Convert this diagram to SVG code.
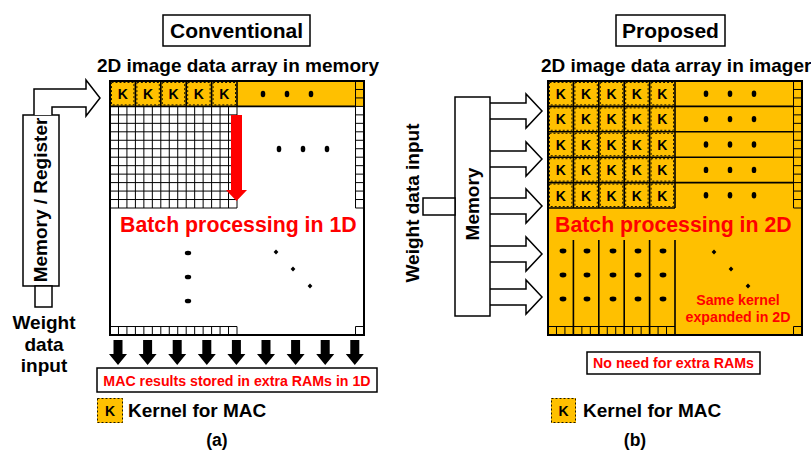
<svg xmlns="http://www.w3.org/2000/svg" width="811" height="450" viewBox="0 0 811 450">
  <style>
    text { font-family: "Liberation Sans", Arial, sans-serif; font-weight: bold; }
    .ttl { font-size: 21px; fill: #000; text-anchor: middle; }
    .hdr { font-size: 19px; fill: #000; }
    .big { font-size: 21.3px; fill: #FF0000; }
    .note { font-size: 14.2px; fill: #FF0000; text-anchor: middle; }
    .k { font-size: 14px; fill: #000; text-anchor: middle; }
    .lbl { font-size: 19px; fill: #000; }
    .cap { font-size: 17.5px; fill: #000; text-anchor: middle; }
    .box { fill: #fff; stroke: #000; stroke-width: 1.5; }
    .yel { fill: #FFC000; }
    .frame { fill: none; stroke: #000; stroke-width: 2; }
    .blk { fill: none; stroke: #000; stroke-width: 1.6; }
    .grid { fill: none; stroke: #000; stroke-width: 1; }
    .kdash { fill: none; stroke: #000; stroke-width: 0.9; stroke-dasharray: 2 2; }
    .harrow { fill: #fff; stroke: #000; stroke-width: 1.5; stroke-linejoin: miter; }
    .dot { fill: #000; }
  </style>
  <defs>
    <!-- kernel cell: dashed inner border and K label -->
    <g id="kc">
      <rect x="1.5" y="1.5" width="22.4" height="22.4" class="kdash"/>
      <text x="12.7" y="18" class="k">K</text>
    </g>
    <path id="dn" d="M-4.5,340 h9 v14 h4.5 l-9,11 l-9,-11 h4.5 z" fill="#000"/>
    <path id="ra" d="M490,-8 H526 V-17 L542,0 L526,17 V8 H490" class="harrow"/>
    <path id="diag" d="M0,-2.4 L2.4,0 L0,2.4 L-2.4,0 Z" fill="#000"/>
  </defs>

  <!-- ===== (a) Conventional ===== -->
  <g id="title-a">
    <rect x="163" y="15" width="147" height="31" class="box"/>
    <text x="236.5" y="38" class="ttl">Conventional</text>
  </g>
  <text x="97" y="72" class="hdr">2D image data array in memory</text>

  <g id="array-a">
    <rect x="110" y="81" width="254" height="254" fill="#fff"/>
    <rect x="110" y="81" width="254" height="25.4" class="yel"/>
    <!-- fine pixel grid -->
    <path class="grid" d="M110 106.4V208 M118.47 106.4V208 M126.93 106.4V208 M135.4 106.4V208 M143.87 106.4V208 M152.33 106.4V208 M160.8 106.4V208 M169.27 106.4V208 M177.73 106.4V208 M186.2 106.4V208 M194.67 106.4V208 M203.13 106.4V208 M211.6 106.4V208 M220.07 106.4V208 M228.53 106.4V208 M237 106.4V208
      M110 114.87H237 M110 123.33H237 M110 131.8H237 M110 140.27H237 M110 148.73H237 M110 157.2H237 M110 165.67H237 M110 174.13H237 M110 182.6H237 M110 191.07H237 M110 199.53H237 M110 208H237
      M355.53 81V208 M355.53 89.47H364 M355.53 97.93H364 M355.53 106.4H364 M355.53 114.87H364 M355.53 123.33H364 M355.53 131.8H364 M355.53 140.27H364 M355.53 148.73H364 M355.53 157.2H364 M355.53 165.67H364 M355.53 174.13H364 M355.53 182.6H364 M355.53 191.07H364 M355.53 199.53H364 M355.53 208H364
      M110 326.53H237 M118.47 326.53V335 M126.93 326.53V335 M135.4 326.53V335 M143.87 326.53V335 M152.33 326.53V335 M160.8 326.53V335 M169.27 326.53V335 M177.73 326.53V335 M186.2 326.53V335 M194.67 326.53V335 M203.13 326.53V335 M211.6 326.53V335 M220.07 326.53V335 M228.53 326.53V335 M237 326.53V335
      M355.53 326.53H364 M355.53 326.53V335"/>
    <path class="blk" d="M110 106.4H355.53 M135.4 81V106.4 M160.8 81V106.4 M186.2 81V106.4 M211.6 81V106.4 M237 81V106.4"/>
    <use href="#kc" x="110" y="81"/>
    <use href="#kc" x="135.4" y="81"/>
    <use href="#kc" x="160.8" y="81"/>
    <use href="#kc" x="186.2" y="81"/>
    <use href="#kc" x="211.6" y="81"/>
    <rect x="110" y="81" width="254" height="254" class="frame"/>
    <!-- continuation dots -->
    <ellipse cx="263" cy="94" rx="2.3" ry="3.2" class="dot"/>
    <ellipse cx="287" cy="94" rx="2.3" ry="3.2" class="dot"/>
    <ellipse cx="311" cy="94" rx="2.3" ry="3.2" class="dot"/>
    <ellipse cx="279" cy="149" rx="2.3" ry="3.2" class="dot"/>
    <ellipse cx="303" cy="149" rx="2.3" ry="3.2" class="dot"/>
    <ellipse cx="327" cy="149" rx="2.3" ry="3.2" class="dot"/>
    <ellipse cx="188" cy="253" rx="3.2" ry="2.3" class="dot"/>
    <ellipse cx="188" cy="277" rx="3.2" ry="2.3" class="dot"/>
    <ellipse cx="188" cy="301" rx="3.2" ry="2.3" class="dot"/>
    <use href="#diag" x="276" y="252"/>
    <use href="#diag" x="293" y="269"/>
    <use href="#diag" x="310" y="286"/>
    <!-- scan direction -->
    <path d="M231 115 H242 V190 H247 L236.5 201 L226 190 H231 Z" fill="#FF0000"/>
    <text x="120" y="232" class="big">Batch processing in 1D</text>
  </g>

  <g id="memory-register">
    <rect x="23" y="115" width="36" height="171" class="box"/>
    <rect x="35" y="286" width="17" height="21" class="box"/>
    <text transform="translate(47,200) rotate(-90)" class="lbl" text-anchor="middle">Memory / Register</text>
  </g>
  <g id="weight-input-a">
    <text x="44" y="329" class="lbl" text-anchor="middle" font-size="18.5">Weight</text>
    <text x="44" y="351" class="lbl" text-anchor="middle" font-size="18.5">data</text>
    <text x="44" y="372" class="lbl" text-anchor="middle" font-size="18.5">input</text>
  </g>

  <g id="connectors">
    <polyline points="34,115 34,89 86,89 86,80 100,98 86,116 86,107 52,107 52,115" class="harrow"/>
    <use href="#dn" x="118"/>
    <use href="#dn" x="147.6"/>
    <use href="#dn" x="177.2"/>
    <use href="#dn" x="206.8"/>
    <use href="#dn" x="236.4"/>
    <use href="#dn" x="266"/>
    <use href="#dn" x="295.6"/>
    <use href="#dn" x="325.2"/>
    <use href="#dn" x="354.8"/>
    <use href="#ra" y="111"/>
    <use href="#ra" y="159"/>
    <use href="#ra" y="206"/>
    <use href="#ra" y="254"/>
    <use href="#ra" y="297"/>
  </g>

  <g id="extra-rams">
    <rect x="97" y="368" width="280" height="24" class="box"/>
    <text x="237" y="386" class="note">MAC results stored in extra RAMs in 1D</text>
  </g>

  <g id="legend-a">
    <rect x="97" y="398" width="26" height="25" class="yel"/>
    <rect x="97.5" y="398.5" width="25" height="24" class="kdash"/>
    <text x="110" y="416" class="k">K</text>
    <text x="128" y="417" class="lbl">Kernel for MAC</text>
  </g>
  <text x="217" y="446" class="cap">(a)</text>

  <!-- ===== (b) Proposed ===== -->
  <g id="title-b">
    <rect x="616" y="15" width="109" height="31" class="box"/>
    <text x="670.5" y="38" class="ttl">Proposed</text>
  </g>
  <text x="541" y="72" class="hdr">2D image data array in imager</text>

  <g id="memory-b">
    <rect x="455" y="97" width="35" height="219" class="box"/>
    <text transform="translate(479,204) rotate(-90)" class="lbl" text-anchor="middle">Memory</text>
  </g>
  <g id="weight-input-b">
    <rect x="423" y="198" width="32" height="17" class="box"/>
    <text transform="translate(419,203) rotate(-90)" class="lbl" text-anchor="middle" font-size="18.7">Weight data input</text>
  </g>

  <g id="array-b">
    <rect x="548" y="81" width="254" height="254" class="yel"/>
    <path class="grid" d="M793.53 81V208 M793.53 89.47H802 M793.53 97.93H802 M793.53 106.4H802 M793.53 114.87H802 M793.53 123.33H802 M793.53 131.8H802 M793.53 140.27H802 M793.53 148.73H802 M793.53 157.2H802 M793.53 165.67H802 M793.53 174.13H802 M793.53 182.6H802 M793.53 191.07H802 M793.53 199.53H802 M793.53 208H802
      M548 326.53H675 M556.47 326.53V335 M564.93 326.53V335 M573.4 326.53V335 M581.87 326.53V335 M590.33 326.53V335 M598.8 326.53V335 M607.27 326.53V335 M615.73 326.53V335 M624.2 326.53V335 M632.67 326.53V335 M641.13 326.53V335 M649.6 326.53V335 M658.07 326.53V335 M666.53 326.53V335
      M793.53 326.53H802 M793.53 326.53V335"/>
    <path class="blk" d="M548 106.4H793.53 M548 131.8H793.53 M548 157.2H793.53 M548 182.6H793.53 M548 208H675
      M573.4 81V208 M598.8 81V208 M624.2 81V208 M649.6 81V208 M675 81V208
      M573.4 240V335 M598.8 240V335 M624.2 240V335 M649.6 240V335 M675 240V335"/>
    <g id="kernels">
      <use href="#kc" x="548" y="81"/><use href="#kc" x="573.4" y="81"/><use href="#kc" x="598.8" y="81"/><use href="#kc" x="624.2" y="81"/><use href="#kc" x="649.6" y="81"/>
      <use href="#kc" x="548" y="106.4"/><use href="#kc" x="573.4" y="106.4"/><use href="#kc" x="598.8" y="106.4"/><use href="#kc" x="624.2" y="106.4"/><use href="#kc" x="649.6" y="106.4"/>
      <use href="#kc" x="548" y="131.8"/><use href="#kc" x="573.4" y="131.8"/><use href="#kc" x="598.8" y="131.8"/><use href="#kc" x="624.2" y="131.8"/><use href="#kc" x="649.6" y="131.8"/>
      <use href="#kc" x="548" y="157.2"/><use href="#kc" x="573.4" y="157.2"/><use href="#kc" x="598.8" y="157.2"/><use href="#kc" x="624.2" y="157.2"/><use href="#kc" x="649.6" y="157.2"/>
      <use href="#kc" x="548" y="182.6"/><use href="#kc" x="573.4" y="182.6"/><use href="#kc" x="598.8" y="182.6"/><use href="#kc" x="624.2" y="182.6"/><use href="#kc" x="649.6" y="182.6"/>
    </g>
    <rect x="548" y="81" width="254" height="254" class="frame"/>
    <!-- row continuation dots -->
    <g class="dot">
      <ellipse cx="706" cy="93.7" rx="2.3" ry="3.2"/><ellipse cx="730" cy="93.7" rx="2.3" ry="3.2"/><ellipse cx="754" cy="93.7" rx="2.3" ry="3.2"/>
      <ellipse cx="706" cy="119.1" rx="2.3" ry="3.2"/><ellipse cx="730" cy="119.1" rx="2.3" ry="3.2"/><ellipse cx="754" cy="119.1" rx="2.3" ry="3.2"/>
      <ellipse cx="706" cy="144.5" rx="2.3" ry="3.2"/><ellipse cx="730" cy="144.5" rx="2.3" ry="3.2"/><ellipse cx="754" cy="144.5" rx="2.3" ry="3.2"/>
      <ellipse cx="706" cy="169.9" rx="2.3" ry="3.2"/><ellipse cx="730" cy="169.9" rx="2.3" ry="3.2"/><ellipse cx="754" cy="169.9" rx="2.3" ry="3.2"/>
      <ellipse cx="706" cy="195.3" rx="2.3" ry="3.2"/><ellipse cx="730" cy="195.3" rx="2.3" ry="3.2"/><ellipse cx="754" cy="195.3" rx="2.3" ry="3.2"/>
      <!-- column continuation dots -->
      <ellipse cx="563" cy="251" rx="3.4" ry="2.4"/><ellipse cx="587" cy="251" rx="3.4" ry="2.4"/><ellipse cx="613" cy="251" rx="3.4" ry="2.4"/><ellipse cx="638" cy="251" rx="3.4" ry="2.4"/><ellipse cx="663" cy="251" rx="3.4" ry="2.4"/>
      <ellipse cx="563" cy="275" rx="3.4" ry="2.4"/><ellipse cx="587" cy="275" rx="3.4" ry="2.4"/><ellipse cx="613" cy="275" rx="3.4" ry="2.4"/><ellipse cx="638" cy="275" rx="3.4" ry="2.4"/><ellipse cx="663" cy="275" rx="3.4" ry="2.4"/>
      <ellipse cx="563" cy="299" rx="3.4" ry="2.4"/><ellipse cx="587" cy="299" rx="3.4" ry="2.4"/><ellipse cx="613" cy="299" rx="3.4" ry="2.4"/><ellipse cx="638" cy="299" rx="3.4" ry="2.4"/><ellipse cx="663" cy="299" rx="3.4" ry="2.4"/>
    </g>
    <use href="#diag" x="714" y="252"/>
    <use href="#diag" x="731" y="269"/>
    <use href="#diag" x="748" y="286"/>
    <text x="555" y="232" class="big">Batch processing in 2D</text>
    <text x="738" y="305" class="note" font-size="14">Same kernel</text>
    <text x="738" y="322" class="note" font-size="14">expanded in 2D</text>
  </g>

  <g id="no-extra-rams">
    <rect x="587" y="352" width="173" height="22" class="box"/>
    <text x="673.5" y="368" class="note">No need for extra RAMs</text>
  </g>

  <g id="legend-b">
    <rect x="551" y="398" width="25" height="25" class="yel"/>
    <rect x="551.5" y="398.5" width="24" height="24" class="kdash"/>
    <text x="563.5" y="416" class="k">K</text>
    <text x="583" y="417" class="lbl">Kernel for MAC</text>
  </g>
  <text x="635" y="446" class="cap">(b)</text>
</svg>
